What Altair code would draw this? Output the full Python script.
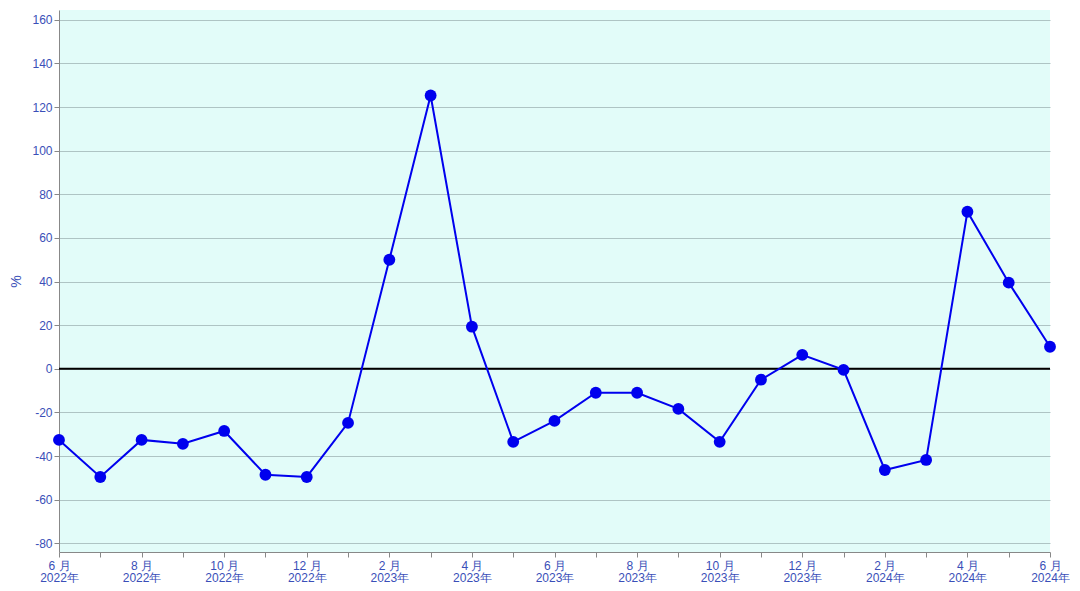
import altair as alt
import pandas as pd

month_index = list(range(25))
values = [-32.6, -49.6, -32.6, -34.4, -28.5, -48.6, -49.6, -24.8, 50.0, 125.3,
          19.3, -33.5, -23.9, -11.0, -11.0, -18.4, -33.5, -5.0, 6.4, -0.5,
          -46.4, -41.8, 72.0, 39.5, 10.1]

df = pd.DataFrame({"i": month_index, "v": values})
zero = pd.DataFrame({"y": [0]})

label_color = "#3a4fb8"
font = "Liberation Sans"

x = alt.X("i:Q", scale=alt.Scale(domain=[0, 24], nice=False, zero=False),
          axis=alt.Axis(values=month_index, grid=False, title=None,
                        labelExpr="datum.value % 2 == 0 ? [((5 + datum.value) % 12 + 1) + ' 月', (2022 + floor((5 + datum.value) / 12)) + '年'] : ''",
                        labelColor=label_color, labelFont=font, labelFontSize=12,
                        tickColor="#888888", domainColor="#888888", tickSize=5,
                        labelPadding=3, labelFlush=False, labelOverlap=False,
                        labelLineHeight=12))
y = alt.Y("v:Q", scale=alt.Scale(domain=[-84, 164.5], nice=False),
          axis=alt.Axis(values=list(range(-80, 161, 20)), title="%", grid=True,
                        labelExpr="'' + datum.value",
                        gridColor="#aec4c4", labelColor=label_color, labelFont=font,
                        labelFontSize=12, titleColor=label_color, titleFont=font,
                        titleFontSize=14, titleFontWeight="normal", titlePadding=8,
                        tickColor="#888888", domainColor="#888888", tickSize=5))

line = alt.Chart(df).mark_line(color="#0000ee", strokeWidth=2).encode(x=x, y=y)
pts = alt.Chart(df).mark_circle(color="#0000ee", size=140, opacity=1).encode(x="i:Q", y="v:Q")
rule = alt.Chart(zero).mark_rule(color="black", strokeWidth=2).encode(y="y:Q")

chart = alt.layer(rule, line, pts).properties(
    width=991, height=542,
    autosize=alt.AutoSizeParams(type="none"),
    padding={"left": 51, "top": 2, "right": 20, "bottom": 31},
    background="white",
).configure_view(fill="#e2fcf9", stroke=None)

chart.save("out.html", embed_options={"renderer": "svg", "actions": False})
